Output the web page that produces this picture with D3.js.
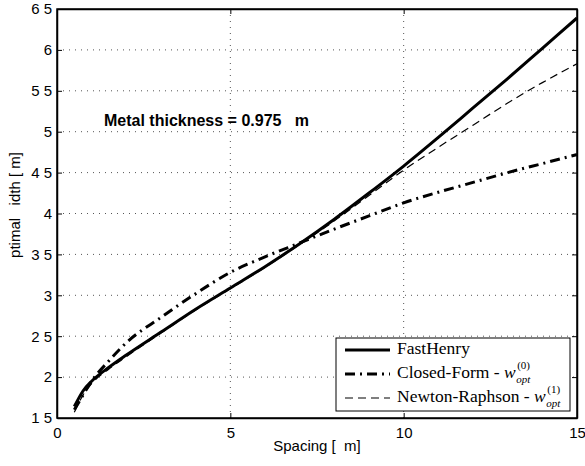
<!DOCTYPE html>
<html>
<head>
<meta charset="utf-8">
<script src="https://cdn.jsdelivr.net/npm/d3@7"></script>
<style>
  body { margin: 0; background: #fff; }
  text { white-space: pre; }
</style>
</head>
<body>
<div id="chart"></div>
<script>
// chart data
const spacing = [0.5, 0.75, 1, 1.5, 2, 3, 4, 5, 6, 7, 8, 9, 10, 11, 12, 13, 14, 15];
const fastHenry = [1.64, 1.83, 1.95, 2.12, 2.27, 2.55, 2.83, 3.09, 3.35, 3.63, 3.93, 4.25, 4.58, 4.93, 5.29, 5.65, 6.02, 6.39];
const closedForm = [1.6, 1.78, 1.95, 2.2, 2.42, 2.73, 3.02, 3.28, 3.47, 3.64, 3.81, 3.97, 4.13, 4.26, 4.38, 4.5, 4.61, 4.72];
const newtonRaphson = [1.57, 1.78, 1.92, 2.1, 2.25, 2.54, 2.82, 3.08, 3.34, 3.62, 3.91, 4.22, 4.53, 4.81, 5.08, 5.35, 5.6, 5.83];
const xTicks = [0, 5, 10, 15];
const yTicks = [1.5, 2, 2.5, 3, 3.5, 4, 4.5, 5, 5.5, 6, 6.5];
const yTickLabels = ["1 5", "2", "2 5", "3", "3 5", "4", "4 5", "5", "5 5", "6", "6 5"];

const sans = "Arial, 'Liberation Sans', sans-serif";
const serif = "'Liberation Serif', 'DejaVu Serif', serif";

// setting the dimensions and margins of the graph
const margin = { top: 9, right: 8, bottom: 48, left: 57 },
  width = 585 - margin.left - margin.right,
  height = 466 - margin.top - margin.bottom;

const svg = d3.select("#chart")
  .append("svg")
  .attr("width", 585)
  .attr("height", 466)
  .append("g")
  .attr("transform", "translate(" + margin.left + "," + margin.top + ")");

const x = d3.scaleLinear().domain([0, 15]).range([0, width]);
const y = d3.scaleLinear().domain([1.5, 6.5]).range([height, 0]);

// grid
svg.append("g")
  .selectAll("line")
  .data(xTicks.slice(1, -1))
  .enter()
  .append("line")
  .attr("x1", d => x(d)).attr("x2", d => x(d))
  .attr("y1", 0).attr("y2", height)
  .attr("stroke", "#555").attr("stroke-width", 1)
  .attr("stroke-dasharray", "1,5");
svg.append("g")
  .selectAll("line")
  .data(yTicks.slice(1, -1))
  .enter()
  .append("line")
  .attr("y1", d => y(d)).attr("y2", d => y(d))
  .attr("x1", 0).attr("x2", width)
  .attr("stroke", "#555").attr("stroke-width", 1)
  .attr("stroke-dasharray", "1,5");

// axes (ticks inside, matlab style)
svg.append("g")
  .attr("transform", "translate(0," + height + ")")
  .call(d3.axisBottom(x).tickValues(xTicks).tickSizeInner(-5).tickSizeOuter(0).tickPadding(9));
svg.append("g")
  .call(d3.axisLeft(y).tickValues(yTicks).tickFormat((d, i) => yTickLabels[i]).tickSizeInner(-5).tickSizeOuter(0).tickPadding(5));
svg.append("g")
  .call(d3.axisTop(x).tickValues(xTicks).tickSizeInner(-5).tickSizeOuter(0).tickFormat(""));
svg.append("g")
  .attr("transform", "translate(" + width + ",0)")
  .call(d3.axisRight(y).tickValues(yTicks).tickSizeInner(-5).tickSizeOuter(0).tickFormat(""));
svg.selectAll(".domain").attr("stroke", "#000").attr("stroke-width", 1.5);
svg.selectAll(".tick line").attr("stroke", "#000");
svg.selectAll(".tick text").attr("font-size", 15).attr("fill", "#000")
  .attr("font-family", sans);
svg.append("rect")
  .attr("width", width).attr("height", height)
  .attr("fill", "none").attr("stroke", "#000").attr("stroke-width", 1.5);

// axis labels
svg.append("text")
  .attr("x", 260).attr("y", height + 33)
  .attr("text-anchor", "middle")
  .attr("font-size", 15)
  .attr("font-family", sans)
  .text("Spacing [  m]");
svg.append("text")
  .attr("transform", "rotate(-90)")
  .attr("x", -196).attr("y", -37)
  .attr("text-anchor", "middle")
  .attr("font-size", 15)
  .attr("font-family", sans)
  .text("ptimal   idth [ m]");

// annotation
svg.append("text")
  .attr("x", 47).attr("y", 117)
  .attr("font-size", 16)
  .attr("font-weight", "bold")
  .attr("font-family", sans)
  .text("Metal thickness = 0.975   m");

// lines
const line = d3.line().x(d => x(d[0])).y(d => y(d[1])).curve(d3.curveMonotoneX);
const series = [
  { name: "FastHenry", values: fastHenry, width: 3, dash: null },
  { name: "Closed-Form - ", values: closedForm, width: 3, dash: "10,5,2,5", sup: "(0)" },
  { name: "Newton-Raphson - ", values: newtonRaphson, width: 1.2, dash: "8,5", sup: "(1)" }
];
series.forEach(s => {
  svg.append("path")
    .datum(spacing.map((d, i) => [d, s.values[i]]))
    .attr("d", line)
    .attr("fill", "none")
    .attr("stroke", "#000")
    .attr("stroke-width", s.width)
    .attr("stroke-dasharray", s.dash);
});

// legend
const lg = svg.append("g").attr("transform", "translate(" + (336 - margin.left) + "," + (338 - margin.top) + ")");
lg.append("rect")
  .attr("width", 234).attr("height", 73)
  .attr("fill", "#fff").attr("stroke", "#000").attr("stroke-width", 1);
series.forEach((s, i) => {
  const ly = 12 + i * 24;
  lg.append("line")
    .attr("x1", 9).attr("x2", 54)
    .attr("y1", ly).attr("y2", ly)
    .attr("stroke", "#000")
    .attr("stroke-width", s.width)
    .attr("stroke-dasharray", s.dash);
  const t = lg.append("text")
    .attr("x", 61).attr("y", ly + 4)
    .attr("font-size", 17.5)
    .attr("font-family", serif)
    .text(s.name);
  if (s.sup) {
    t.append("tspan").attr("font-style", "italic").text("w");
    const endX = 61 + t.node().getComputedTextLength() + 0.5;
    // subscript and superscript stacked after the w
    lg.append("text")
      .attr("x", endX).attr("y", ly + 9)
      .attr("font-size", 11).attr("font-style", "italic")
      .attr("font-family", serif)
      .text("opt");
    lg.append("text")
      .attr("x", endX + 1).attr("y", ly - 5)
      .attr("font-size", 11)
      .attr("font-family", serif)
      .text(s.sup);
  }
});
</script>
</body>
</html>
